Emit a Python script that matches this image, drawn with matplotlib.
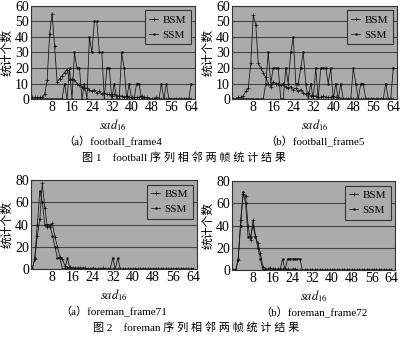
import matplotlib
matplotlib.use("Agg")
import matplotlib.pyplot as plt

plt.rcParams['font.family'] = ['Liberation Serif', 'Noto Sans CJK SC']
plt.rcParams['mathtext.fontset'] = 'stix'

x_vals = list(range(65))
x_ticks = [8, 16, 24, 32, 40, 48, 56, 64]

# football_frame4
bsm_f4 = [1, 1, 1, 1, 1, 3, 12, 42, 55, 34, 11, 13, 15, 17, 19, 12, 13, 12, 10, 9,
          8, 7, 7, 6, 5, 6, 4, 5, 3, 4, 3, 3, 2, 3, 2, 2, 2, 1, 2, 1,
          1, 1, 1, 1, 2, 1, 1, 0, 0, 0, 1, 0, 0, 0, 0, 0, 0, 0, 0, 0,
          0, 0, 0, 0, 0]
ssm_f4 = [0, 0, 0, 0, 0, 0, 0, 0, 0, 0, 0, 0, 0, 10, 0, 20, 0, 30, 20, 20,
          0, 10, 0, 40, 30, 50, 50, 30, 30, 0, 20, 20, 0, 10, 0, 0, 30, 20, 0, 10,
          0, 0, 10, 10, 0, 0, 0, 0, 0, 0, 0, 0, 10, 0, 10, 0, 0, 0, 0, 0,
          0, 0, 0, 0, 10]

# football_frame5
bsm_f5 = [0, 0, 1, 1, 2, 5, 7, 23, 54, 48, 23, 20, 17, 14, 10, 8, 11, 10, 10, 9,
          10, 8, 7, 8, 6, 7, 5, 6, 4, 3, 4, 2, 2, 2, 1, 1, 2, 1, 1, 1,
          2, 1, 1, 0, 0, 0, 0, 0, 0, 0, 0, 0, 0, 0, 0, 0, 0, 0, 0, 0,
          0, 0, 0, 0, 0]
ssm_f5 = [0, 0, 0, 0, 0, 0, 0, 0, 0, 0, 0, 0, 0, 10, 30, 10, 20, 20, 20, 0,
          0, 20, 10, 30, 40, 10, 10, 20, 30, 10, 0, 10, 0, 20, 0, 20, 20, 20, 10, 20,
          0, 10, 0, 10, 0, 0, 0, 0, 20, 10, 0, 10, 10, 0, 0, 0, 0, 0, 0, 0,
          0, 10, 0, 0, 20]

# foreman_frame71
bsm_m71 = [0, 9, 30, 45, 77, 55, 38, 38, 41, 29, 20, 11, 9, 3, 1, 2, 1, 1, 1, 1,
           1, 1, 0, 0, 1, 0, 0, 0, 1, 0, 0, 0, 0, 0, 0, 0, 0, 0, 0, 0,
           0, 0, 0, 0, 0, 0, 0, 0, 0, 0, 0, 0, 0, 0, 0, 0, 0, 0, 0, 0,
           0, 0, 0, 0, 0]
ssm_m71 = [0, 10, 40, 70, 60, 40, 40, 40, 30, 20, 10, 10, 0, 0, 10, 0, 0, 0, 0, 0,
           0, 0, 0, 0, 0, 0, 0, 0, 0, 0, 0, 0, 10, 0, 10, 0, 0, 0, 0, 0,
           0, 0, 0, 0, 0, 0, 0, 0, 0, 0, 0, 0, 0, 0, 0, 0, 0, 0, 0, 0,
           0, 0, 0, 0, 0]

# foreman_frame72
bsm_m72 = [0, 0, 9, 45, 68, 67, 40, 27, 45, 31, 24, 15, 3, 1, 1, 2, 1, 1, 1, 1,
           1, 1, 1, 0, 1, 1, 0, 0, 0, 0, 0, 0, 0, 0, 0, 0, 0, 0, 0, 0,
           0, 0, 0, 0, 0, 0, 0, 0, 0, 0, 0, 0, 0, 0, 0, 0, 0, 0, 0, 0,
           0, 0, 0, 0, 0]
ssm_m72 = [0, 0, 10, 40, 70, 60, 30, 30, 40, 30, 20, 10, 0, 0, 0, 0, 0, 0, 0, 0,
           10, 0, 10, 10, 10, 10, 10, 10, 0, 0, 0, 0, 0, 0, 0, 0, 0, 0, 0, 0,
           0, 0, 0, 0, 0, 0, 0, 0, 0, 0, 0, 0, 0, 0, 0, 0, 0, 0, 0, 0,
           0, 0, 0, 0, 0]

panels = [
    ([0.0775, 0.7105, 0.41, 0.272], bsm_f4, ssm_f4, 60, 10, "（a）football_frame4"),
    ([0.58, 0.7105, 0.4125, 0.272], bsm_f5, ssm_f5, 60, 10, "（b）football_frame5"),
    ([0.0775, 0.2135, 0.415, 0.26], bsm_m71, ssm_m71, 80, 20, "（a）foreman_frame71"),
    ([0.58, 0.2105, 0.4075, 0.26], bsm_m72, ssm_m72, 80, 20, "（b）foreman_frame72"),
]

fig = plt.figure(figsize=(4, 3.42), dpi=100)
bg = '#ababab'

for rect, bsm, ssm, ymax, ystep, cap in panels:
    ax = fig.add_axes(rect)
    ax.set_facecolor(bg)
    ax.plot(x_vals, bsm, color='#111111', lw=0.55, marker='+', ms=2.5, mew=0.5, label='BSM')
    ax.plot(x_vals, ssm, color='#111111', lw=0.55, marker='.', ms=1.6, label='SSM')
    ax.set_xlim(-0.5, 65.5)
    ax.set_ylim(0, ymax)
    ax.set_yticks(range(0, ymax + 1, ystep))
    ax.set_xticks(x_ticks)
    ax.tick_params(length=0, labelsize=10, pad=1.5)
    ax.grid(axis='y', color='#444444', lw=0.8)
    ax.set_axisbelow(True)
    for s in ax.spines.values():
        s.set_color('#333333')
        s.set_linewidth(0.8)
    ax.set_ylabel('统计个数', fontsize=8.5)
    ax.yaxis.set_label_coords(-0.105, 0.5)
    leg = ax.legend(loc='upper right', fontsize=8, frameon=True, fancybox=False,
                    handlelength=0.8, handletextpad=0.4, borderpad=0.4,
                    labelspacing=0.5, borderaxespad=0.4)
    leg.get_frame().set_facecolor(bg)
    leg.get_frame().set_edgecolor('#333333')
    leg.get_frame().set_alpha(1)
    leg.get_frame().set_linewidth(0.8)
    cx = rect[0] + rect[2] / 2
    ybot = rect[1]
    fig.text(cx, ybot - 0.075, r'$\mathit{sad}_{16}$', ha='center', va='center', fontsize=9)
    fig.text(cx, ybot - 0.125, cap, ha='center', va='center', fontsize=8)

fig.text(0.46, 1 - 157 / 342, "图 1　football 序 列 相 邻 两 帧 统 计 结 果",
         ha='center', va='center', fontsize=8)
fig.text(0.49, 1 - 327 / 342, "图 2　foreman 序 列 相 邻 两 帧 统 计 结 果",
         ha='center', va='center', fontsize=8)

fig.savefig('out.png', dpi=100, facecolor='white')
